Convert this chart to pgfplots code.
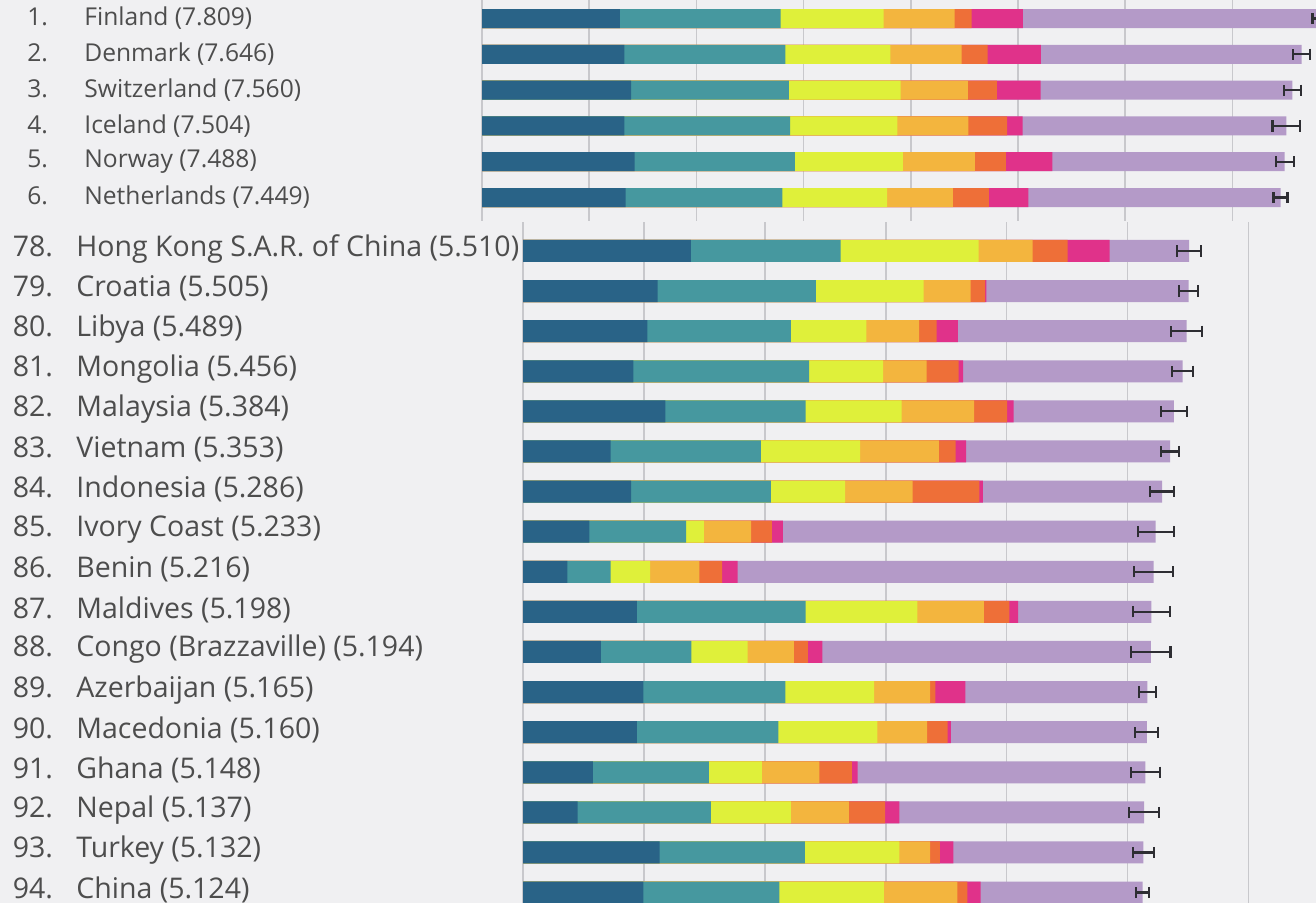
\documentclass[border=0pt]{standalone}
\usepackage{pgfplots}
\pgfplotsset{compat=1.18}
\usepackage{pgfplotstable}
\usepackage{fontspec}
\setmainfont{Open Sans}
\definecolor{cgdp}{HTML}{296387}
\definecolor{csoc}{HTML}{46989F}
\definecolor{chea}{HTML}{DFF03A}
\definecolor{cfre}{HTML}{F3B53E}
\definecolor{cgen}{HTML}{EE6F38}
\definecolor{ccor}{HTML}{E0328A}
\definecolor{cdys}{HTML}{B49AC8}
\definecolor{bg}{HTML}{F0F0F2}
\definecolor{gridc}{HTML}{C8C8CC}
\definecolor{txt}{HTML}{4D4D4D}
\definecolor{errc}{HTML}{2E2E33}

% cumulative ends of the segments: GDP, +social, +health, +freedom, +generosity, +corruption, total
\pgfplotstableread{
y gdp soc hea fre gen cor tot err
0 1.285 2.785 3.746 4.408 4.568 5.046 7.809 0.061
1 1.327 2.830 3.810 4.475 4.717 5.213 7.646 0.078
2 1.391 2.863 3.904 4.533 4.802 5.210 7.560 0.080
3 1.327 2.874 3.875 4.537 4.899 5.044 7.504 0.130
4 1.424 2.919 3.927 4.598 4.886 5.320 7.488 0.085
5 1.339 2.803 3.778 4.392 4.728 5.097 7.449 0.065
}\toptab

\pgfplotstableread{
y gdp soc hea fre gen cor tot err
0 1.388 2.628 3.769 4.215 4.504 4.851 5.510 0.099
1 1.113 2.422 3.313 3.702 3.822 3.832 5.505 0.078
2 1.029 2.215 2.840 3.276 3.422 3.596 5.489 0.127
3 0.913 2.367 2.978 3.338 3.604 3.640 5.456 0.085
4 1.178 2.338 3.131 3.731 4.004 4.058 5.384 0.105
5 0.724 1.967 2.789 3.440 3.578 3.665 5.353 0.076
6 0.895 2.051 2.665 3.222 3.775 3.804 5.286 0.100
7 0.549 1.349 1.495 1.887 2.058 2.149 5.233 0.149
8 0.367 0.724 1.051 1.458 1.647 1.775 5.216 0.160
9 0.942 2.338 3.262 3.811 4.022 4.095 5.198 0.151
10 0.644 1.393 1.858 2.240 2.356 2.476 5.194 0.162
11 0.996 2.171 2.905 3.367 3.411 3.658 5.165 0.073
12 0.942 2.113 2.931 3.342 3.513 3.538 5.160 0.095
13 0.578 1.538 1.975 2.451 2.720 2.767 5.148 0.122
14 0.451 1.553 2.215 2.695 2.996 3.113 5.137 0.122
15 1.131 2.331 3.113 3.367 3.447 3.560 5.132 0.085
16 0.996 2.120 2.985 3.593 3.676 3.785 5.124 0.055
}\bottab

\pgfplotsset{
  happy/.style={
    scale only axis, xbar, bar shift=0pt,
    y dir=reverse,
    axis line style={draw=none}, tick style={draw=none},
    major tick length=0pt,
    xmajorgrids, grid style={gridc, line width=0.8pt},
    xticklabels={},
    ytick={0,...,16},
    yticklabel style={anchor=west, inner sep=0pt, text=txt},
    clip=true,
  },
  errs/.style={
    fill=cdys, draw=none,
    error bars/.cd, x dir=both, x explicit,
    error bar style={line width=1.1pt, color=errc},
    error mark options={line width=1.1pt, mark size=2.8pt, color=errc, rotate=90},
  },
}

\newcommand{\nt}[2]{\makebox[28.5pt][l]{#1}#2}
\newcommand{\nb}[2]{\makebox[31.75pt][l]{#1}#2}

\begin{document}
\begin{tikzpicture}
\clip (0pt,0pt) rectangle (658pt,-451.5pt);
\fill[bg] (0pt,0pt) rectangle (658pt,-451.5pt);

% top panel: ranks 1-6
\begin{axis}[happy,
  at={(241pt,0pt)}, anchor=north west,
  width=417pt, height=110.5pt,
  xmin=0, xmax=7.78, xtick={0,...,7},
  ymin=-0.517, ymax=5.656,
  bar width=9.5pt,
  yticklabel style={xshift=-227.5pt, font=\fontsize{12.3}{14}\selectfont},
  yticklabels={
    {\nt{1.}{Finland (7.809)}},
    {\nt{2.}{Denmark (7.646)}},
    {\nt{3.}{Switzerland (7.560)}},
    {\nt{4.}{Iceland (7.504)}},
    {\nt{5.}{Norway (7.488)}},
    {\nt{6.}{Netherlands (7.449)}}},
]
\addplot[errs] table[x=tot, y=y, x error=err]{\toptab};
\addplot[fill=ccor, draw=none] table[x=cor, y=y]{\toptab};
\addplot[fill=cgen, draw=none] table[x=gen, y=y]{\toptab};
\addplot[fill=cfre, draw=none] table[x=fre, y=y]{\toptab};
\addplot[fill=chea, draw=none] table[x=hea, y=y]{\toptab};
\addplot[fill=csoc, draw=none] table[x=soc, y=y]{\toptab};
\addplot[fill=cgdp, draw=none] table[x=gdp, y=y]{\toptab};
\end{axis}

% bottom panel: ranks 78-94
\begin{axis}[happy,
  at={(261.5pt,-111pt)}, anchor=north west,
  width=396.5pt, height=340.5pt,
  xmin=0, xmax=6.559, xtick={0,...,6},
  ymin=-0.723, ymax=16.26,
  bar width=11pt,
  yticklabel style={xshift=-255.25pt, yshift=1.2pt, font=\fontsize{14.25}{16}\selectfont},
  yticklabels={
    {\nb{78.}{Hong Kong S.A.R. of China (5.510)}},
    {\nb{79.}{Croatia (5.505)}},
    {\nb{80.}{Libya (5.489)}},
    {\nb{81.}{Mongolia (5.456)}},
    {\nb{82.}{Malaysia (5.384)}},
    {\nb{83.}{Vietnam (5.353)}},
    {\nb{84.}{Indonesia (5.286)}},
    {\nb{85.}{Ivory Coast (5.233)}},
    {\nb{86.}{Benin (5.216)}},
    {\nb{87.}{Maldives (5.198)}},
    {\nb{88.}{Congo (Brazzaville) (5.194)}},
    {\nb{89.}{Azerbaijan (5.165)}},
    {\nb{90.}{Macedonia (5.160)}},
    {\nb{91.}{Ghana (5.148)}},
    {\nb{92.}{Nepal (5.137)}},
    {\nb{93.}{Turkey (5.132)}},
    {\nb{94.}{China (5.124)}}},
]
\addplot[errs] table[x=tot, y=y, x error=err]{\bottab};
\addplot[fill=ccor, draw=none] table[x=cor, y=y]{\bottab};
\addplot[fill=cgen, draw=none] table[x=gen, y=y]{\bottab};
\addplot[fill=cfre, draw=none] table[x=fre, y=y]{\bottab};
\addplot[fill=chea, draw=none] table[x=hea, y=y]{\bottab};
\addplot[fill=csoc, draw=none] table[x=soc, y=y]{\bottab};
\addplot[fill=cgdp, draw=none] table[x=gdp, y=y]{\bottab};
\end{axis}
\end{tikzpicture}
\end{document}
